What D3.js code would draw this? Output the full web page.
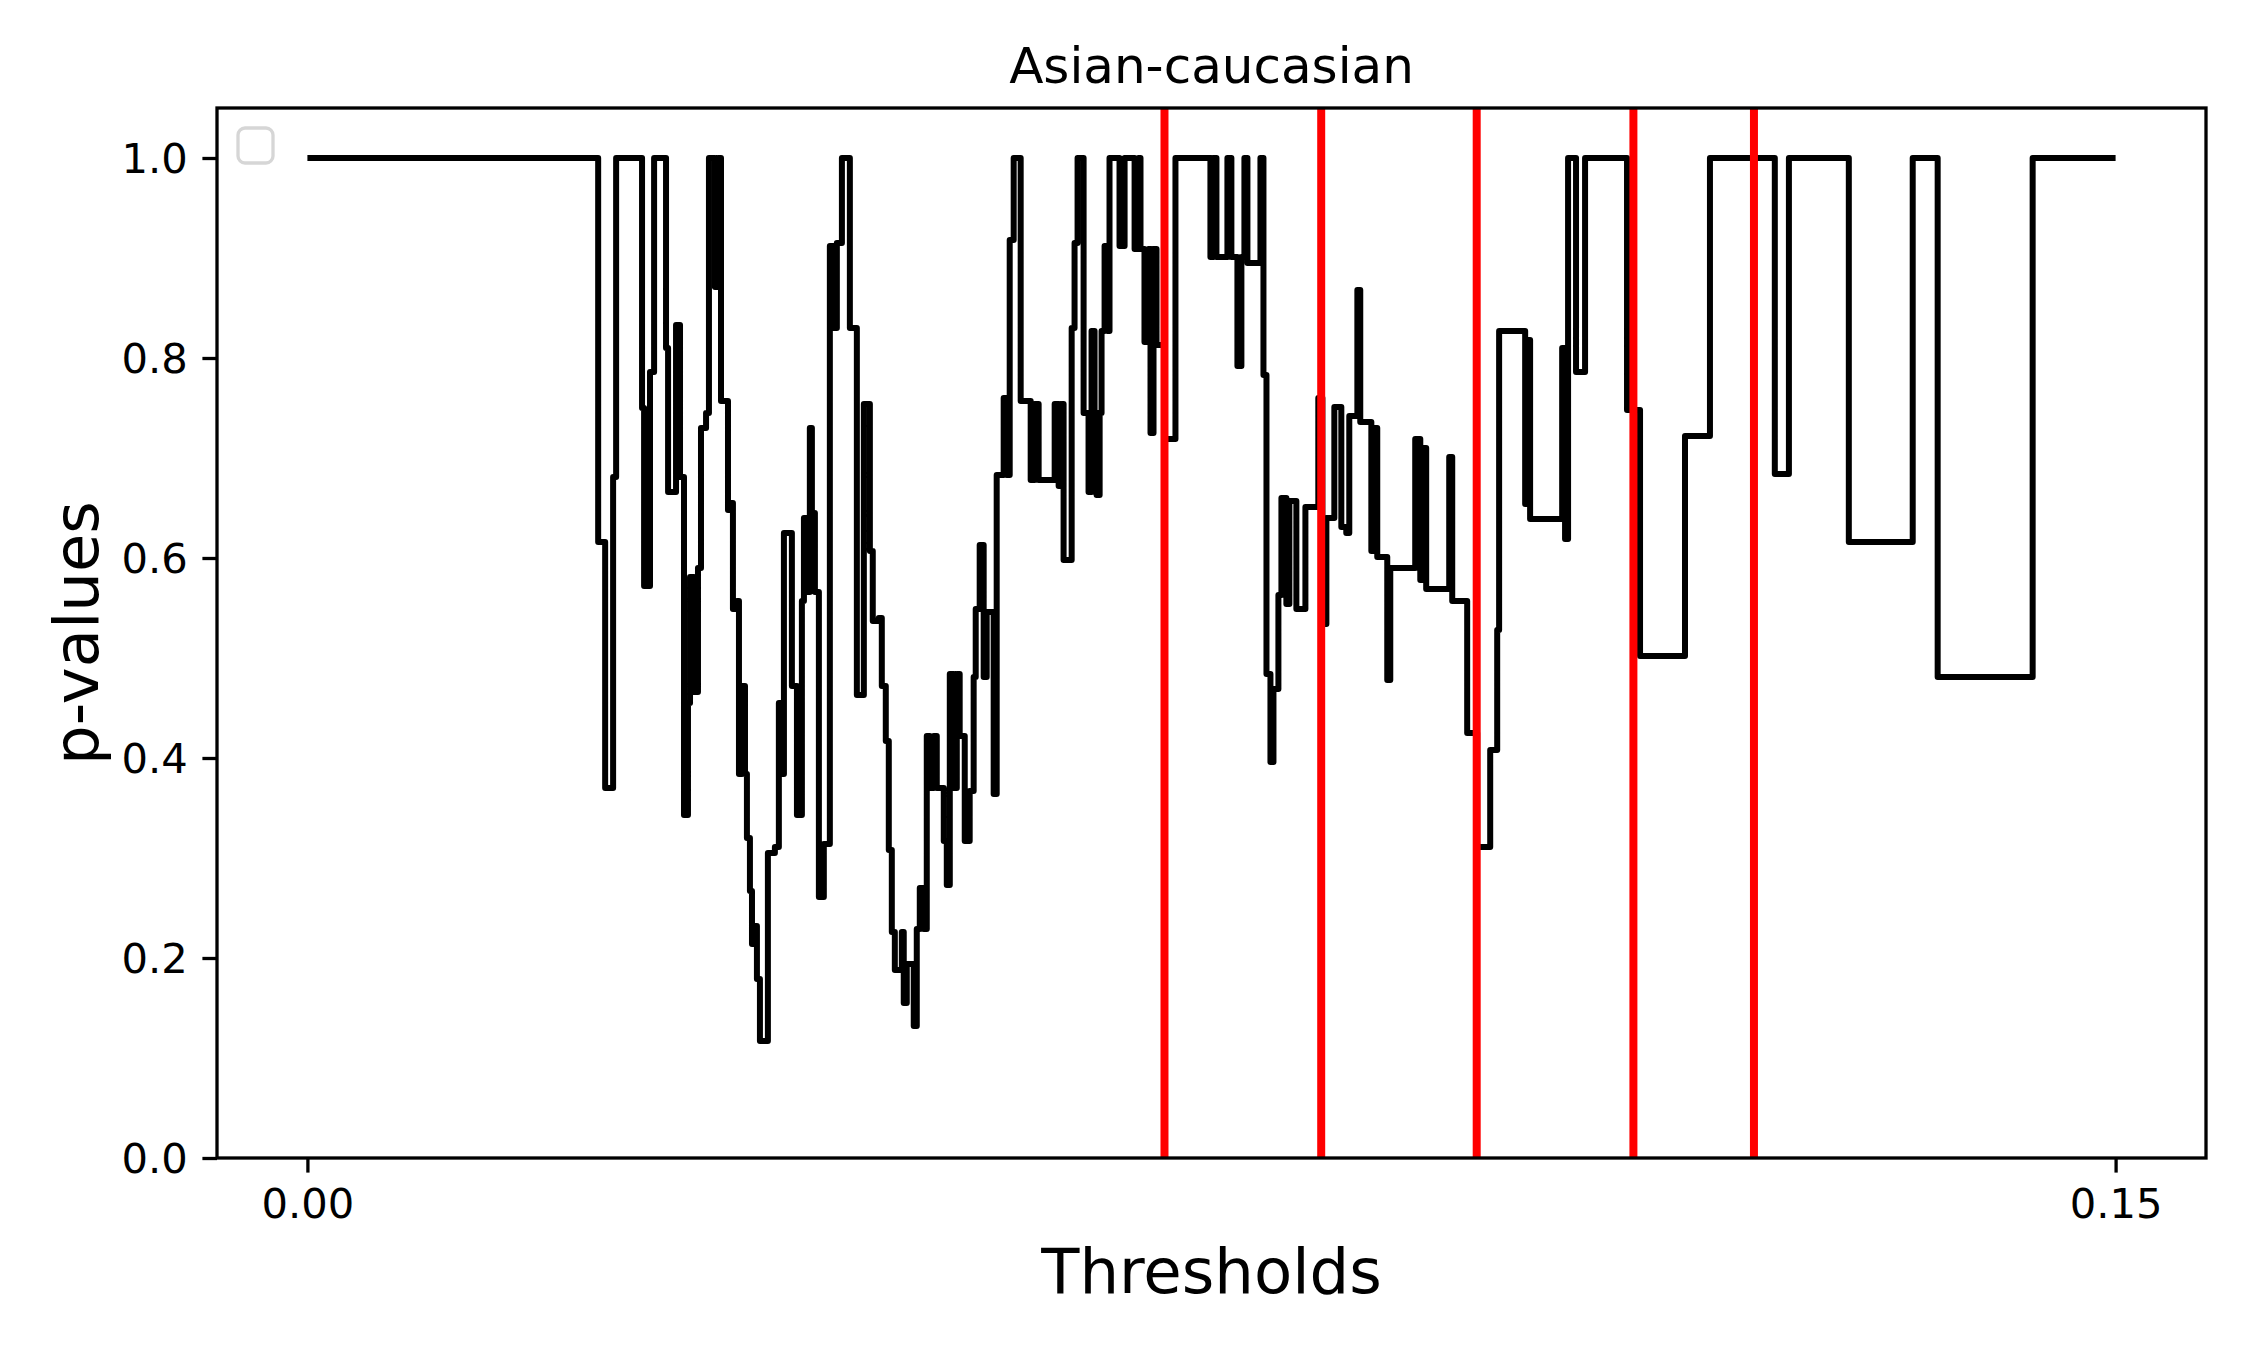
<!DOCTYPE html>
<html>
<head>
<meta charset="utf-8">
<script src="https://cdn.jsdelivr.net/npm/d3@7/dist/d3.min.js"></script>
<style>
  html, body { margin: 0; padding: 0; background: #ffffff; }
  svg { display: block; font-family: "DejaVu Sans", sans-serif; }
</style>
</head>
<body>
<svg id="chart" width="2250" height="1350"></svg>
<script>
// ---------------- data ----------------
const chartTitle = "Asian-caucasian";
const xLabel = "Thresholds";
const yLabel = "p-values";

const thresholds = [
  0, 0.02412, 0.02470, 0.02536, 0.02561, 0.02776, 0.02793, 0.02842, 0.02876, 0.02975,
  0.02992, 0.03058, 0.03091, 0.03124, 0.03157, 0.03174, 0.03207, 0.03240, 0.03265, 0.03307,
  0.03331, 0.03381, 0.03406, 0.03431, 0.03489, 0.03514, 0.03530, 0.03563, 0.03580, 0.03605,
  0.03630, 0.03646, 0.03671, 0.03688, 0.03713, 0.03729, 0.03754, 0.03820, 0.03878, 0.03911,
  0.03936, 0.03953, 0.04019, 0.04061, 0.04102, 0.04119, 0.04144, 0.04168, 0.04185, 0.04210,
  0.04243, 0.04284, 0.04334, 0.04367, 0.04392, 0.04434, 0.04500, 0.04558, 0.04616, 0.04666,
  0.04690, 0.04740, 0.04765, 0.04798, 0.04823, 0.04848, 0.04873, 0.04931, 0.04947, 0.04972,
  0.05030, 0.05055, 0.05080, 0.05113, 0.05138, 0.05163, 0.05196, 0.05221, 0.05279, 0.05304,
  0.05329, 0.05362, 0.05387, 0.05411, 0.05453, 0.05494, 0.05527, 0.05544, 0.05577, 0.05610,
  0.05635, 0.05693, 0.05718, 0.05776, 0.05801, 0.05826, 0.05859, 0.05917, 0.06000, 0.06033,
  0.06066, 0.06199, 0.06232, 0.06257, 0.06273, 0.06340, 0.06364, 0.06389, 0.06439, 0.06480,
  0.06505, 0.06530, 0.06547, 0.06572, 0.06588, 0.06613, 0.06638, 0.06654, 0.06737, 0.06779,
  0.06862, 0.06895, 0.06911, 0.06944, 0.06978, 0.06994, 0.07019, 0.07044, 0.07110, 0.07201,
  0.07491, 0.07516, 0.07541, 0.07632, 0.07665, 0.07715, 0.07748, 0.07773, 0.07798, 0.07906,
  0.07931, 0.07956, 0.07989, 0.08014, 0.08055, 0.08080, 0.08121, 0.08146, 0.08204, 0.08279,
  0.08386, 0.08420, 0.08453, 0.08519, 0.08577, 0.08618, 0.08643, 0.08710, 0.08734, 0.08826,
  0.08851, 0.08875, 0.08958, 0.08983, 0.09190, 0.09232, 0.09257, 0.09281, 0.09472, 0.09497,
  0.09621, 0.09704, 0.09812, 0.09870, 0.09886, 0.10102, 0.10127, 0.10143, 0.10409, 0.10433,
  0.10458, 0.10524, 0.10599, 0.10947, 0.11055, 0.11428, 0.11635, 0.12173, 0.12290, 0.12787,
  0.13317, 0.13524, 0.14312, 0.15000
];

const pvalues = [
  1.000, 0.616, 0.370, 0.681, 1.000, 0.750, 0.572, 0.786, 1.000, 0.810,
  0.666, 0.833, 0.681, 0.343, 0.455, 0.581, 0.466, 0.590, 0.730, 0.745,
  1.000, 0.871, 1.000, 0.757, 0.648, 0.655, 0.549, 0.557, 0.384, 0.472,
  0.384, 0.320, 0.267, 0.214, 0.232, 0.179, 0.117, 0.305, 0.311, 0.455,
  0.384, 0.625, 0.472, 0.343, 0.557, 0.640, 0.566, 0.730, 0.645, 0.566,
  0.261, 0.314, 0.912, 0.830, 0.915, 1.000, 0.830, 0.463, 0.754, 0.607,
  0.537, 0.540, 0.472, 0.417, 0.308, 0.226, 0.188, 0.226, 0.155, 0.194,
  0.132, 0.229, 0.270, 0.229, 0.422, 0.370, 0.422, 0.370, 0.317, 0.273,
  0.484, 0.370, 0.484, 0.422, 0.317, 0.367, 0.481, 0.549, 0.613, 0.481,
  0.546, 0.364, 0.683, 0.760, 0.683, 0.918, 1.000, 0.757, 0.678, 0.754,
  0.678, 0.754, 0.672, 0.754, 0.598, 0.830, 0.915, 1.000, 0.745, 0.666,
  0.827, 0.745, 0.663, 0.745, 0.827, 0.912, 0.827, 1.000, 0.912, 1.000,
  0.909, 1.000, 0.909, 0.816, 0.909, 0.725, 0.909, 0.813, 0.719, 1.000,
  0.901, 1.000, 0.901, 1.000, 0.901, 0.792, 0.901, 1.000, 0.895, 1.000,
  0.783, 0.484, 0.396, 0.469, 0.563, 0.660, 0.554, 0.657, 0.549, 0.651,
  0.760, 0.534, 0.640, 0.751, 0.631, 0.625, 0.742, 0.868, 0.736, 0.607,
  0.730, 0.601, 0.478, 0.590, 0.719, 0.578, 0.710, 0.569, 0.701, 0.557,
  0.425, 0.311, 0.408, 0.528, 0.827, 0.654, 0.818, 0.639, 0.810, 0.619,
  1.000, 0.786, 1.000, 0.748, 0.502, 0.722, 1.000, 0.684, 1.000, 0.616,
  1.000, 0.481, 1.000, 1.000
];

const markerThresholds = [0.0711, 0.0841, 0.0970, 0.1100, 0.1200];

const xTickValues = [0.00, 0.15];
const xTickLabels = ["0.00", "0.15"];
const yTickValues = [0.0, 0.2, 0.4, 0.6, 0.8, 1.0];
const yTickLabels = ["0.0", "0.2", "0.4", "0.6", "0.8", "1.0"];

// ---------------- layout ----------------
const W = 2250, H = 1350;
const plot = { left: 217, right: 2206, top: 108, bottom: 1158 };

const xMin = 0, xMax = 0.15, yMin = 0, yMax = 1.05;
const xPad = (xMax - xMin) * 0.05;

const x = d3.scaleLinear().domain([xMin - xPad, xMax + xPad]).range([plot.left, plot.right]);
const y = d3.scaleLinear().domain([yMin, yMax]).range([plot.bottom, plot.top]);

const svg = d3.select("#chart");
svg.append("rect").attr("width", W).attr("height", H).attr("fill", "#ffffff");

const points = thresholds.map((t, i) => ({ t: t, p: pvalues[i] }));

// clip to axes
svg.append("clipPath").attr("id", "clip")
  .append("rect")
  .attr("x", plot.left).attr("y", plot.top)
  .attr("width", plot.right - plot.left).attr("height", plot.bottom - plot.top);

const g = svg.append("g").attr("clip-path", "url(#clip)");

const line = d3.line()
  .x(d => x(d.t))
  .y(d => y(d.p))
  .curve(d3.curveStepAfter);

g.append("path")
  .datum(points)
  .attr("d", line)
  .attr("fill", "none")
  .attr("stroke", "#000000")
  .attr("stroke-width", 6)
  .attr("stroke-linejoin", "round");

g.selectAll("line.marker")
  .data(markerThresholds)
  .enter().append("line")
  .attr("class", "marker")
  .attr("x1", d => x(d)).attr("x2", d => x(d))
  .attr("y1", plot.top).attr("y2", plot.bottom)
  .attr("stroke", "#ff0000")
  .attr("stroke-width", 8);

// axes via d3 axis generators
const tickLen = 14.6, tickPad = 14.6, fontTick = 41.7;

const xAxis = d3.axisBottom(x)
  .tickValues(xTickValues)
  .tickFormat((d, i) => xTickLabels[i])
  .tickSizeInner(tickLen).tickSizeOuter(0).tickPadding(tickPad);

const yAxis = d3.axisLeft(y)
  .tickValues(yTickValues)
  .tickFormat((d, i) => yTickLabels[i])
  .tickSizeInner(tickLen).tickSizeOuter(0).tickPadding(tickPad);

const gx = svg.append("g").attr("transform", `translate(0,${plot.bottom})`).call(xAxis);
const gy = svg.append("g").attr("transform", `translate(${plot.left},0)`).call(yAxis);

[gx, gy].forEach(ax => {
  ax.select(".domain").remove();
  ax.selectAll(".tick line").attr("stroke", "#000").attr("stroke-width", 3.3);
  ax.selectAll(".tick text")
    .attr("fill", "#000")
    .style("font-family", "'DejaVu Sans', sans-serif")
    .style("font-size", fontTick + "px");
});
gx.selectAll(".tick text").attr("dy", null).attr("y", tickLen + tickPad)
  .attr("dominant-baseline", "hanging");
gy.selectAll(".tick text").attr("dy", null).attr("dominant-baseline", "central");

// spines
svg.append("rect")
  .attr("x", plot.left).attr("y", plot.top)
  .attr("width", plot.right - plot.left).attr("height", plot.bottom - plot.top)
  .attr("fill", "none").attr("stroke", "#000").attr("stroke-width", 3.3);

// empty legend frame
svg.append("rect")
  .attr("x", 238).attr("y", 128)
  .attr("width", 35).attr("height", 35)
  .attr("rx", 7).attr("ry", 7)
  .attr("fill", "#ffffff").attr("fill-opacity", 0.8)
  .attr("stroke", "#d6d6d6").attr("stroke-width", 3.3);

// title and labels
svg.append("text")
  .attr("x", (plot.left + plot.right) / 2).attr("y", plot.top - 25)
  .attr("text-anchor", "middle")
  .style("font-size", "50px").attr("fill", "#000")
  .text(chartTitle);

svg.append("text")
  .attr("x", (plot.left + plot.right) / 2).attr("y", 1293)
  .attr("text-anchor", "middle")
  .style("font-size", "62.5px").attr("fill", "#000")
  .text(xLabel);

svg.append("text")
  .attr("transform", `translate(98,${(plot.top + plot.bottom) / 2}) rotate(-90)`)
  .attr("text-anchor", "middle")
  .style("font-size", "62.5px").attr("fill", "#000")
  .text(yLabel);
</script>
</body>
</html>
